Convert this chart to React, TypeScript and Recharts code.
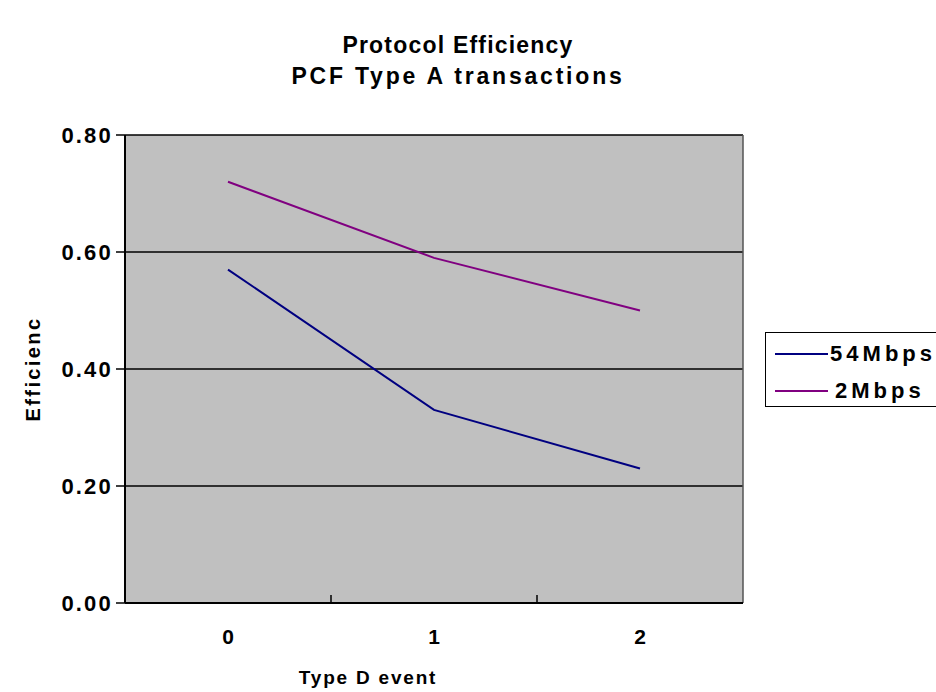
import React from "react";
import {
  LineChart,
  Line,
  XAxis,
  YAxis,
  CartesianGrid,
  Legend,
  ReferenceLine,
  Label,
} from "recharts";

// values
const CATEGORIES = [0, 1, 2];
const SERIES_54MBPS = [0.57, 0.33, 0.23];
const SERIES_2MBPS = [0.72, 0.59, 0.5];
const Y_TICKS = [0, 0.2, 0.4, 0.6, 0.8];
// labels sit on the categories, tick marks between them (Excel style)
const X_TICKS = [0, 0.5, 1, 1.5, 2];

const SERIES = [
  { key: "s54", name: "54Mbps", color: "#000080" },
  { key: "s2", name: "2Mbps", color: "#800080" },
];

const FONT = '"Liberation Sans", Arial, sans-serif';

const data = CATEGORIES.map((c, i) => ({
  x: c,
  s54: SERIES_54MBPS[i],
  s2: SERIES_2MBPS[i],
}));

function XTick(props: any) {
  const { x, y, payload } = props;
  const v = payload.value as number;
  if (!Number.isInteger(v)) {
    return <line x1={x} x2={x} y1={y} y2={y - 8} stroke="#000" strokeWidth={1.5} />;
  }
  return (
    <text
      x={x}
      y={y + 41}
      textAnchor="middle"
      fontFamily={FONT}
      fontWeight="bold"
      fontSize={21}
      fill="#000"
    >
      {v}
    </text>
  );
}

function YTitle(props: any) {
  const vb = props.viewBox;
  const cx = vb.x - 27;
  const cy = vb.y + vb.height / 2;
  return (
    <text
      x={cx}
      y={cy}
      transform={`rotate(-90 ${cx} ${cy})`}
      textAnchor="middle"
      dominantBaseline="central"
      fontFamily={FONT}
      fontWeight="bold"
      fontSize={20}
      letterSpacing={2.4}
      fill="#000"
    >
      Efficienc
    </text>
  );
}

function XTitle(props: any) {
  const vb = props.viewBox;
  return (
    <text
      x={vb.x + 243}
      y={vb.y + 81}
      textAnchor="middle"
      fontFamily={FONT}
      fontWeight="bold"
      fontSize={19}
      letterSpacing={1.8}
      fill="#000"
    >
      Type D event
    </text>
  );
}

function LegendBox() {
  return (
    <div
      style={{
        width: 172,
        height: 75,
        boxSizing: "border-box",
        border: "1.5px solid #000",
        background: "#fff",
        fontFamily: FONT,
        fontWeight: "bold",
        fontSize: 22,
        letterSpacing: 4,
        paddingTop: 2,
        whiteSpace: "nowrap",
      }}
    >
      {SERIES.map((s) => (
        <div key={s.key} style={{ display: "flex", alignItems: "center", height: 37 }}>
          <svg width={60} height={10} style={{ marginLeft: 9 }}>
            <line x1={0} x2={53} y1={5} y2={5} stroke={s.color} strokeWidth={2} />
          </svg>
          <span>{s.name}</span>
        </div>
      ))}
    </div>
  );
}

export default function App() {
  return (
    <div
      style={{
        position: "fixed",
        left: 0,
        top: 0,
        width: 936,
        height: 692,
        overflow: "hidden",
        background: "#fff",
      }}
    >
      <div
        style={{
          position: "absolute",
          left: 0,
          width: 916,
          top: 30,
          textAlign: "center",
          fontFamily: FONT,
          fontWeight: "bold",
          fontSize: 23,
          lineHeight: "31px",
        }}
      >
        <div style={{ letterSpacing: 1.2 }}>Protocol Efficiency</div>
        <div style={{ letterSpacing: 2.8 }}>PCF Type A transactions</div>
      </div>
      <LineChart
        width={936}
        height={692}
        data={data}
        margin={{ top: 135, right: 193, bottom: 39, left: 60 }}
      >
        <CartesianGrid vertical={false} fill="#c0c0c0" stroke="#000" strokeWidth={1.5} />
        <XAxis
          dataKey="x"
          type="number"
          domain={[-0.5, 2.5]}
          ticks={X_TICKS}
          interval={0}
          tickLine={false}
          tickSize={0}
          tickMargin={0}
          height={50}
          axisLine={{ stroke: "#000", strokeWidth: 2 }}
          tick={<XTick />}
        >
          <Label content={<XTitle />} />
        </XAxis>
        <YAxis
          type="number"
          domain={[0, 0.8]}
          ticks={Y_TICKS}
          width={65}
          tickSize={9}
          tickMargin={3}
          tickFormatter={(v: number) => v.toFixed(2)}
          tick={{ fontFamily: FONT, fontWeight: "bold", fontSize: 22, fill: "#000", letterSpacing: 2.2 }}
          axisLine={{ stroke: "#000", strokeWidth: 2 }}
          tickLine={{ stroke: "#000", strokeWidth: 1.5 }}
        >
          <Label content={<YTitle />} />
        </YAxis>
        <ReferenceLine x={2.5} stroke="#555" strokeWidth={1.5} />
        {SERIES.map((s) => (
          <Line
            key={s.key}
            type="linear"
            dataKey={s.key}
            name={s.name}
            stroke={s.color}
            strokeWidth={2}
            dot={false}
            activeDot={false}
            isAnimationActive={false}
          />
        ))}
        <Legend
          layout="horizontal"
          verticalAlign="middle"
          align="center"
          content={<LegendBox />}
          wrapperStyle={{ position: "absolute", left: 765, top: 332, width: 172 }}
        />
      </LineChart>
    </div>
  );
}
